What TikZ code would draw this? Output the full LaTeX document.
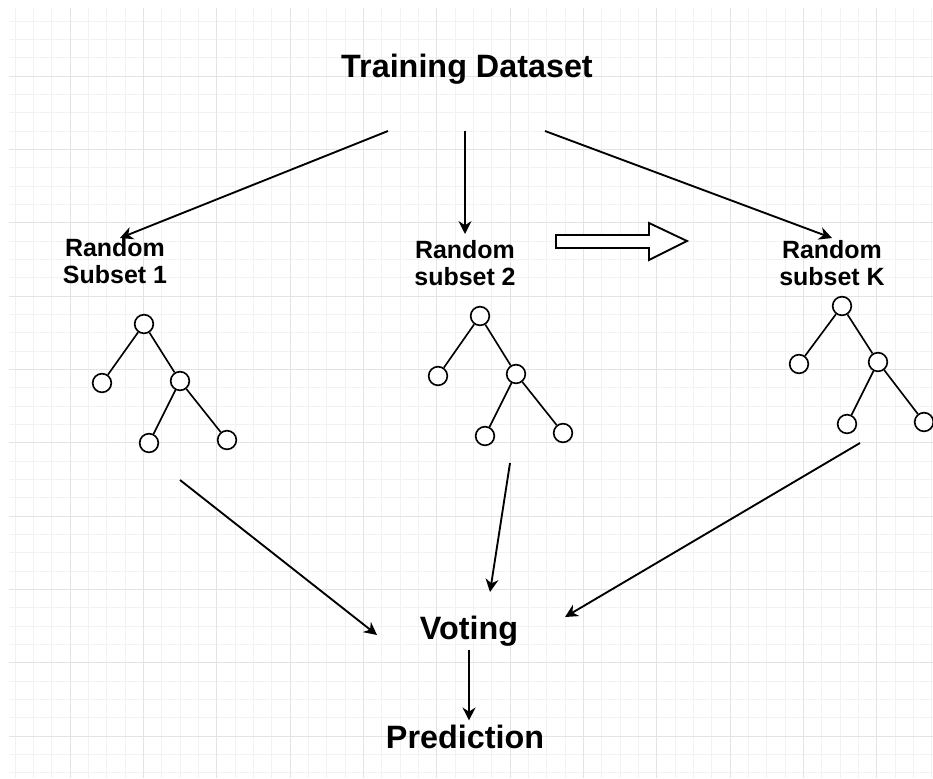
\documentclass[tikz,border=0pt]{standalone}
\usepackage{fontspec}
\setmainfont{Liberation Sans}
\usetikzlibrary{arrows.meta,positioning,calc}
\tikzset{ar/.style={-{Stealth[length=11pt,width=11pt,inset=3.5pt]},line width=1.6pt}}
\tikzstyle{leaf}=[draw,circle,line width=1.4pt,minimum size=0.56cm,inner sep=0pt,fill=white]
\tikzstyle{big}=[font=\bfseries\fontsize{27.6}{30}\selectfont]
\tikzstyle{sub}=[align=center,font=\bfseries\fontsize{21.3}{23}\selectfont]
\tikzstyle{edge}=[line width=1.4pt]
\definecolor{gmin}{HTML}{F2F2F2}
\definecolor{gmaj}{HTML}{E3E3E3}

\begin{document}
\begin{tikzpicture}[x=0.03cm,y=-0.03cm]
      \useasboundingbox (0,0) rectangle (933,778);
      \fill[white] (0,0) rectangle (933,778);
      % background grid
      \begin{scope}
        \clip (9,8) rectangle (933,778);
        \foreach \k in {0,...,51} \draw[gmin,line width=0.6pt] ({-3.3+18.333*\k},8) -- ++(0,770);
        \foreach \k in {0,...,42} \draw[gmin,line width=0.6pt] (9,{2.67+18.333*\k}) -- ++(924,0);
        \foreach \k in {0,...,13} \draw[gmaj,line width=0.7pt] ({-3.3+73.333*\k},8) -- ++(0,770);
        \foreach \k in {0,...,10} \draw[gmaj,line width=0.7pt] (9,{2.67+73.333*\k}) -- ++(924,0);
      \end{scope}

      \node [big,anchor=base] (td) at (467,77) {Training Dataset};
      \node [sub] (s1) at (115,261) {Random\\Subset 1};
      \node [sub] (s2) at (465,263) {Random\\subset 2};
      \node [sub] (sk) at (832,263) {Random\\subset K};
      \node [big,anchor=base] (vote) at (469,639) {Voting};
      \node [big,anchor=base] (pred) at (465,748) {Prediction};

      % split arrows
      \coordinate (a1s) at (388,131);
      \coordinate (a1e) at (120,238);
      \coordinate (a2s) at (465,131);
      \coordinate (a2e) at (465,234);
      \coordinate (a3s) at (545,131);
      \coordinate (a3e) at (832,238);
      \draw[ar] (a1s) -- (a1e);
      \draw[ar] (a2s) -- (a2e);
      \draw[ar] (a3s) -- (a3e);

      % block arrow
      \draw[line width=1.6pt,fill=white] (556,235) -- (649,235) -- (649,223) -- (687,241)
        -- (649,260) -- (649,248) -- (556,248) -- cycle;

      % trees
      \node [leaf] (t1r) at (144,324) {};
      \node [leaf] (t1a) at (102,383) {};
      \node [leaf] (t1b) at (180,381) {};
      \node [leaf] (t1c) at (149,443) {};
      \node [leaf] (t1d) at (227,440) {};
      \draw[edge] (t1r) -- (t1a) (t1r) -- (t1b) (t1b) -- (t1c) (t1b) -- (t1d);

      \node [leaf] (t2r) at (480,316) {};
      \node [leaf] (t2a) at (438,376) {};
      \node [leaf] (t2b) at (516,374) {};
      \node [leaf] (t2c) at (485,436) {};
      \node [leaf] (t2d) at (563,433) {};
      \draw[edge] (t2r) -- (t2a) (t2r) -- (t2b) (t2b) -- (t2c) (t2b) -- (t2d);

      \node [leaf] (tkr) at (842,306) {};
      \node [leaf] (tka) at (799,364) {};
      \node [leaf] (tkb) at (878,362) {};
      \node [leaf] (tkc) at (847,424) {};
      \node [leaf] (tkd) at (924,422) {};
      \draw[edge] (tkr) -- (tka) (tkr) -- (tkb) (tkb) -- (tkc) (tkb) -- (tkd);

      % merge arrows
      \coordinate (b1s) at (180,480);
      \coordinate (b1e) at (377,635);
      \coordinate (b2s) at (510,463);
      \coordinate (b2e) at (490,592);
      \coordinate (b3s) at (860,443);
      \coordinate (b3e) at (565,617);
      \draw[ar] (b1s) -- (b1e);
      \draw[ar] (b2s) -- (b2e);
      \draw[ar] (b3s) -- (b3e);
      \draw[ar] (vote.south) -- (vote.south |- pred.north);
\end{tikzpicture}
\end{document}
